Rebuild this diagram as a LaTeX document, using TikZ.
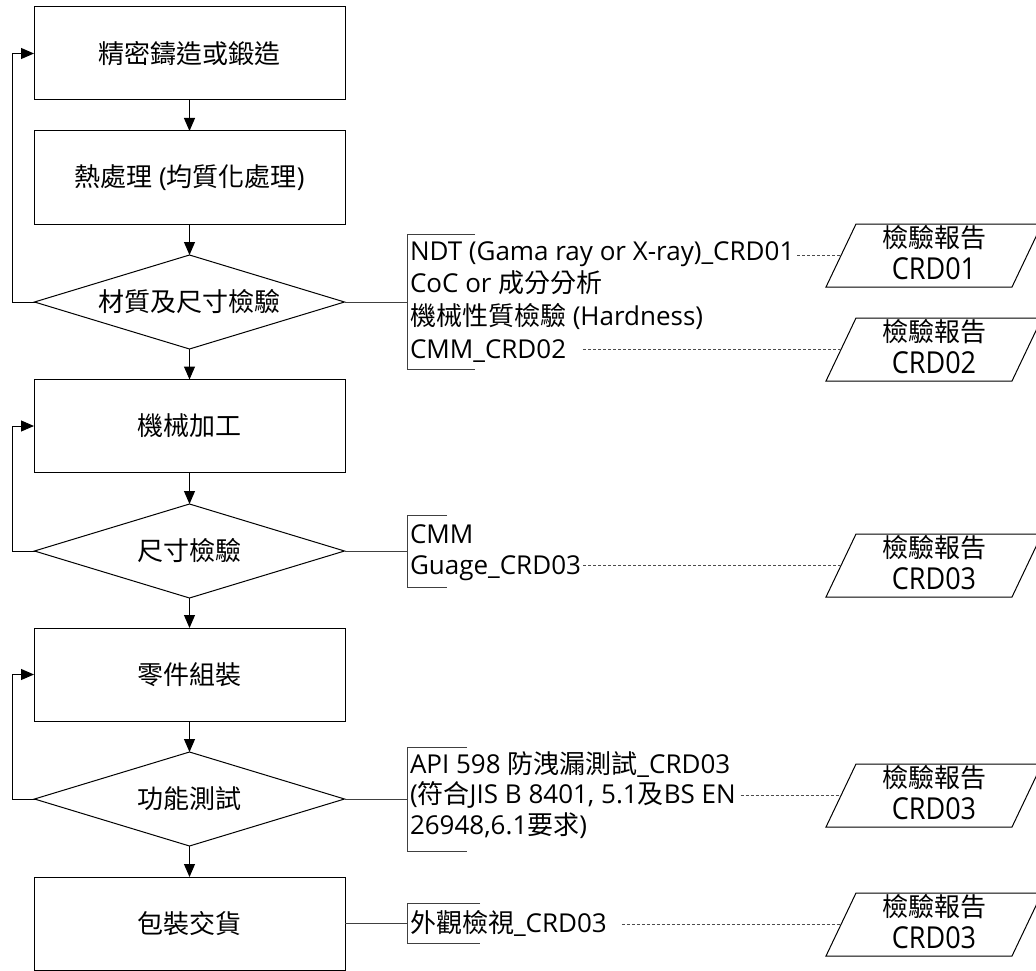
\documentclass[tikz,border=0pt]{standalone}
\usepackage{fontspec}
\setmainfont{Open Sans}
\newfontfamily\cjk[Scale=1.0]{Noto Sans CJK TC}
\usetikzlibrary{arrows.meta,shapes.geometric}
\tikzset{
  proc/.style={draw, line width=1pt, rectangle, minimum width=311pt, minimum height=93pt,
    inner sep=0pt, outer sep=0pt, font=\fontsize{26}{30}\selectfont},
  decide/.style={draw, line width=1pt, diamond, aspect=3.3, minimum width=310pt, minimum height=94pt,
    inner sep=0pt, outer sep=0pt, font=\fontsize{26}{30}\selectfont},
  flow/.style={line width=1pt, -{Triangle[length=13pt,width=11pt]}},
  ann/.style={anchor=base west, inner sep=0pt, outer sep=0pt, font=\fontsize{26}{30}\selectfont},
  brk/.style={draw=black!75, line width=0.9pt},
  dashline/.style={draw=black!70, line width=0.8pt, dash pattern=on 3pt off 2pt},
  report/.style={draw, line width=1pt},
  rtext/.style={inner sep=0pt, outer sep=0pt, font=\fontsize{26}{30}\selectfont},
}
\begin{document}
\begin{tikzpicture}[x=1pt,y=-1pt]
\useasboundingbox (0,0) rectangle (1036,971);
% main flow
\node[proc]   (b1) at (189.5,53.5)  {\cjk 精密鑄造或鍛造};
\node[proc]   (b2) at (189.5,177.5) {{\cjk 熱處理} ({\cjk 均質化處理})};
\node[decide] (d1) at (189.5,302)   {\cjk 材質及尺寸檢驗};
\node[proc]   (b3) at (189.5,426)   {\cjk 機械加工};
\node[decide] (d2) at (189.5,551)   {\cjk 尺寸檢驗};
\node[proc]   (b4) at (189.5,674.5) {\cjk 零件組裝};
\node[decide] (d3) at (189.5,799)   {\cjk 功能測試};
\node[proc]   (b5) at (189.5,923.5) {\cjk 包裝交貨};

\draw[flow] (b1) -- (b2);
\draw[flow] (b2) -- (d1);
\draw[flow] (d1) -- (b3);
\draw[flow] (b3) -- (d2);
\draw[flow] (d2) -- (b4);
\draw[flow] (b4) -- (d3);
\draw[flow] (d3) -- (b5);

\draw[flow] (d1.west) -- ++(-22,0) |- (b1.west);
\draw[flow] (d2.west) -- ++(-22,0) |- (b3.west);
\draw[flow] (d3.west) -- ++(-22,0) |- (b4.west);

% brackets
\coordinate (k1t) at (475,234); \coordinate (k1tl) at (407,234);
\coordinate (k1bl) at (407,369); \coordinate (k1b) at (475,369);
\coordinate (k2t) at (447,515); \coordinate (k2tl) at (407,515);
\coordinate (k2bl) at (407,587); \coordinate (k2b) at (447,587);
\coordinate (k3t) at (467,747); \coordinate (k3tl) at (407,747);
\coordinate (k3bl) at (407,851); \coordinate (k3b) at (467,851);
\coordinate (k4t) at (480,903); \coordinate (k4tl) at (407,903);
\coordinate (k4bl) at (407,943); \coordinate (k4b) at (480,943);
\draw[brk] (k1t) -- (k1tl) -- (k1bl) -- (k1b);
\draw[brk] (k2t) -- (k2tl) -- (k2bl) -- (k2b);
\draw[brk] (k3t) -- (k3tl) -- (k3bl) -- (k3b);
\draw[brk] (k4t) -- (k4tl) -- (k4bl) -- (k4b);
\draw[brk] (d1.east) -- (d1.east -| k1tl);
\draw[brk] (d2.east) -- (d2.east -| k2tl);
\draw[brk] (d3.east) -- (d3.east -| k3tl);
\draw[brk] (b5.east) -- (b5.east -| k4tl);

% annotation texts
\node[ann] (t1a) at (410,260)   {NDT (Gama ray or X-ray)\_CRD01};
\node[ann] (t1b) at (410,292.7) {CoC or {\cjk 成分分析}};
\node[ann] (t1c) at (410,325.3) {{\cjk 機械性質檢驗} (Hardness)};
\node[ann] (t1d) at (410,358)   {CMM\_CRD02};
\node[ann] (t2a) at (410,543)   {CMM};
\node[ann] (t2b) at (410,574)   {Guage\_CRD03};
\node[ann] (t3a) at (410,773)   {API 598 {\cjk 防洩漏測試}\_CRD03};
\node[ann] (t3b) at (410,803)   {({\cjk 符合}JIS B 8401, 5.1{\cjk 及}BS EN};
\node[ann] (t3c) at (410,834)   {26948,6.1{\cjk 要求})};
\node[ann] (t4a) at (410,932)   {{\cjk 外觀檢視}\_CRD03};

% reports
\foreach \n/\t/\c in {p1/224/CRD01, p2/318/CRD02, p3/534/CRD03, p4/764/CRD03, p5/893/CRD03}{
  \draw[report] (826,\t+63) -- (856,\t) -- (1042,\t) -- (1012,\t+63) -- cycle;
  \coordinate (\n w) at (841,\t+31.5);
  \node[rtext] (\n a) at (934,\t+14) {\cjk 檢驗報告};
  \node[rtext] (\n b) at (934,\t+45) {\fontsize{27}{30}\selectfont\scalebox{1}[1.12]{\c}};
}

% dashed links
\draw[dashline] ([xshift=3pt]t1a.east |- p1w) -- (p1w);
\draw[dashline] ([xshift=17pt]t1d.east |- p2w) -- (p2w);
\draw[dashline] ([xshift=2pt]t2b.east |- p3w) -- (p3w);
\draw[dashline] ([xshift=5pt]t3b.east |- p4w) -- (p4w);
\draw[dashline] ([xshift=15pt]t4a.east |- p5w) -- (p5w);
\end{tikzpicture}
\end{document}
